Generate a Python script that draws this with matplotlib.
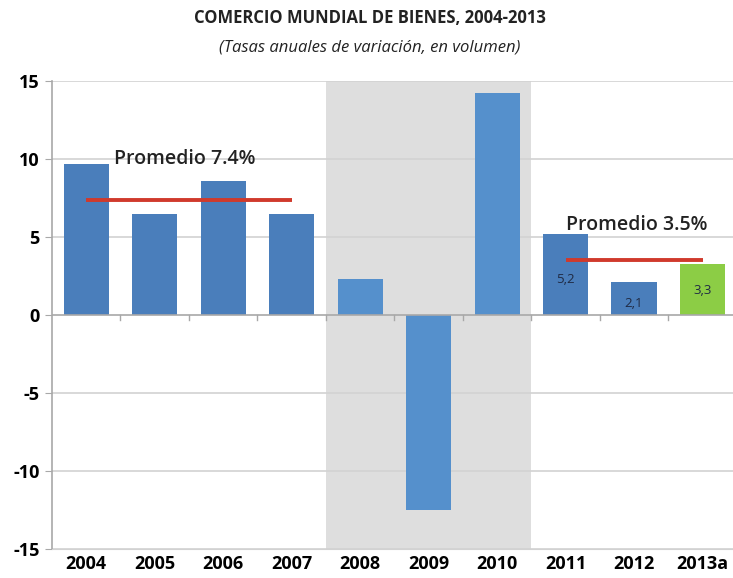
import matplotlib.pyplot as plt

years = ['2004', '2005', '2006', '2007', '2008', '2009', '2010', '2011', '2012', '2013a']
growth = [9.7, 6.5, 8.6, 6.5, 2.3, -12.5, 14.2, 5.2, 2.1, 3.3]
colors = ['#4a7ebb'] * 4 + ['#5590cc'] * 3 + ['#4a7ebb'] * 2 + ['#8ccd45']

# averages for the two sub-periods
avg_labels = ['Promedio 7.4%', 'Promedio 3.5%']
avg_values = [7.4, 3.5]
avg_spans = [(0, 3), (7, 9)]

value_labels = {7: '5,2', 8: '2,1', 9: '3,3'}
label_pos = {7: 2.3, 8: 0.75, 9: 1.6}

plt.rcParams['font.family'] = ['Open Sans', 'DejaVu Sans']

fig = plt.figure(figsize=(7.33, 5.78), dpi=100)
ax = fig.add_axes([52 / 733, 1 - 549 / 578, 1 - 52 / 733, (549 - 81) / 578])

# crisis years shaded
ax.axvspan(3.5, 6.5, color='#dedede', zorder=0, lw=0)

for y in range(-15, 16, 5):
    if y != 0:
        ax.axhline(y, color='#d2d2d2', lw=1.2, zorder=1)

x = range(len(years))
ax.bar(x, growth, width=0.66, color=colors, zorder=3)

for i, lab in value_labels.items():
    ax.text(i, label_pos[i], lab, ha='center', va='center', fontsize=9.5,
            color='#1f2a44', zorder=5)

for lab, val, (a, b) in zip(avg_labels, avg_values, avg_spans):
    ax.plot([a, b], [val, val], color='#d03a2c', lw=2.8, zorder=4,
            solid_capstyle='butt')
ax.text(0.4, 10.0, avg_labels[0], ha='left', va='center', fontsize=14,
        fontweight='semibold', color='#222222', zorder=5)
ax.text(7.0, 5.8, avg_labels[1], ha='left', va='center', fontsize=14,
        fontweight='semibold', color='#222222', zorder=5)

# category separators on the zero line
for i in range(len(years) - 1):
    ax.plot([i + 0.5, i + 0.5], [0, -0.35], color='#a8a8a8', lw=1, zorder=4)
ax.axhline(0, color='#a8a8a8', lw=1.2, zorder=4)

for s in ['top', 'right']:
    ax.spines[s].set_visible(False)
ax.spines['bottom'].set_position(('data', -15))
ax.spines['bottom'].set_color('#d2d2d2')
ax.spines['left'].set_color('#a8a8a8')
ax.spines['left'].set_linewidth(1.2)

ax.set_xlim(-0.5, 9.445)
ax.set_ylim(-15, 15)
ax.set_yticks(range(-15, 16, 5))
ax.set_yticklabels([str(v) for v in range(-15, 16, 5)], fontsize=13, fontweight='bold')
ax.set_xticks(list(x))
ax.set_xticklabels(years, fontsize=13, fontweight='bold')
ax.tick_params(axis='x', length=0, pad=4)
ax.tick_params(axis='y', length=5, color='#a8a8a8', pad=4)

fig.text(0.505, 1 - 18 / 578, 'COMERCIO MUNDIAL DE BIENES, 2004-2013', ha='center',
         va='center', fontsize=12, fontweight='bold', color='#222222')
fig.text(0.505, 1 - 47 / 578, '(Tasas anuales de variación, en volumen)', ha='center',
         va='center', fontsize=12, style='italic', color='#222222')

fig.savefig('out.png', dpi=100)
